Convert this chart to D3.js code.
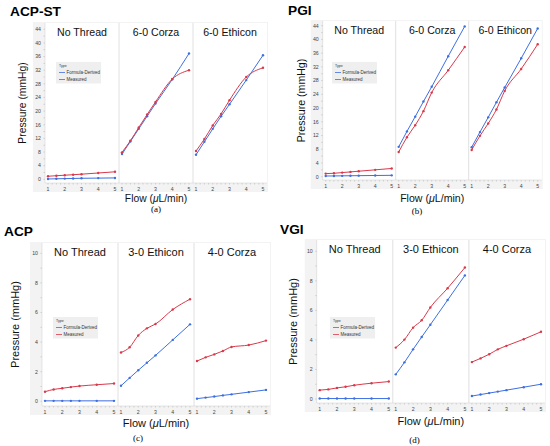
<!DOCTYPE html>
<html>
<head>
<meta charset="utf-8">
<script src="https://cdn.jsdelivr.net/npm/d3@7"></script>
<style>
  body { margin: 0; background: #fff; }
  svg { font-family: "Liberation Sans", Arial, Helvetica, sans-serif; }
</style>
</head>
<body>
<svg id="chart" width="550" height="446"></svg>
<script>
// Data
const flows = [1, 1.5, 2, 2.5, 3, 4, 5];
const xTicks = [1, 2, 3, 4, 5];
const yTicksHigh = [0, 4, 8, 12, 16, 20, 24, 28, 32, 36, 40, 44];
const yTicksLow = [0, 2, 4, 6, 8, 10];
const seriesNames = ["Formula-Derived", "Measured"];

// (a) ACP-ST
const acpstFacets = ["No Thread", "6-0 Corza", "6-0 Ethicon"];
const acpstNoThreadFormula = [0.1, 0.15, 0.2, 0.25, 0.3, 0.35, 0.4];
const acpstNoThreadMeasured = [0.9, 1.05, 1.2, 1.35, 1.5, 1.85, 2.2];
const acpstCorzaFormula = [7.4, 11.1, 14.8, 18.5, 22.2, 29.3, 36.9];
const acpstCorzaMeasured = [7.9, 11.3, 15.2, 19.0, 22.7, 29.4, 32.0];
const acpstEthiconFormula = [7.2, 11.0, 14.8, 18.5, 22.0, 29.1, 36.4];
const acpstEthiconMeasured = [8.3, 11.8, 15.8, 19.2, 23.2, 30.0, 32.7];

// (b) PGI
const pgiFacets = ["No Thread", "6-0 Corza", "6-0 Ethicon"];
const pgiNoThreadFormula = [0.2, 0.22, 0.25, 0.28, 0.3, 0.35, 0.4];
const pgiNoThreadMeasured = [0.9, 1.0, 1.2, 1.4, 1.6, 2.0, 2.4];
const pgiCorzaFormula = [8.7, 13.2, 17.5, 21.9, 26.2, 35.1, 43.8];
const pgiCorzaMeasured = [7.2, 11.5, 15.0, 19.1, 24.5, 31.0, 37.8];
const pgiEthiconFormula = [8.6, 13.0, 17.3, 21.7, 26.0, 34.5, 43.2];
const pgiEthiconMeasured = [7.8, 11.9, 15.5, 19.6, 25.0, 31.4, 38.6];

// (c) ACP
const acpFacets = ["No Thread", "3-0 Ethicon", "4-0 Corza"];
const acpNoThreadFormula = [0.03, 0.03, 0.03, 0.03, 0.03, 0.03, 0.03];
const acpNoThreadMeasured = [0.65, 0.8, 0.88, 0.96, 1.03, 1.12, 1.2];
const acpEthiconFormula = [1.05, 1.58, 2.1, 2.6, 3.1, 4.15, 5.2];
const acpEthiconMeasured = [3.3, 3.65, 4.45, 4.93, 5.22, 6.2, 6.9];
const acpCorzaFormula = [0.18, 0.25, 0.32, 0.4, 0.47, 0.62, 0.77];
const acpCorzaMeasured = [2.72, 2.97, 3.17, 3.4, 3.67, 3.8, 4.1];

// (d) VGI
const vgiFacets = ["No Thread", "3-0 Ethicon", "4-0 Corza"];
const vgiNoThreadFormula = [0.03, 0.03, 0.03, 0.03, 0.03, 0.03, 0.03];
const vgiNoThreadMeasured = [0.6, 0.65, 0.75, 0.83, 0.93, 1.07, 1.18];
const vgiEthiconFormula = [1.67, 2.48, 3.36, 4.2, 5.03, 6.7, 8.37];
const vgiEthiconMeasured = [3.48, 4.02, 4.83, 5.33, 6.2, 7.5, 8.9];
const vgiCorzaFormula = [0.2, 0.3, 0.4, 0.5, 0.6, 0.8, 1.0];
const vgiCorzaMeasured = [2.5, 2.75, 3.03, 3.36, 3.6, 4.05, 4.55];

const colors = { "Formula-Derived": "#3d6fe3", "Measured": "#d9394a" };

// Panel layout
const panels = [
  {
    title: "ACP-ST", sub: "(a)", facets: acpstFacets, yTicks: yTicksHigh, yMax: 44,
    series: [
      [acpstNoThreadFormula, acpstNoThreadMeasured],
      [acpstCorzaFormula, acpstCorzaMeasured],
      [acpstEthiconFormula, acpstEthiconMeasured],
    ],
    L: 45, R: 267, T: 23, B: 183, y0: 179.3, yTop: 29.3,
    titleX: 10, titleY: 16, yLabX: 22, xLabY: 202, subX: 156, subY: 212, labSize: 10.3, facetSize: 10.6,
    legX: 56, legY: 62,
  },
  {
    title: "PGI", sub: "(b)", facets: pgiFacets, yTicks: yTicksHigh, yMax: 44,
    series: [
      [pgiNoThreadFormula, pgiNoThreadMeasured],
      [pgiCorzaFormula, pgiCorzaMeasured],
      [pgiEthiconFormula, pgiEthiconMeasured],
    ],
    L: 322.7, R: 541.7, T: 21, B: 180, y0: 176.7, yTop: 25.7,
    titleX: 288, titleY: 15, yLabX: 301.5, xLabY: 201.5, subX: 417, subY: 213.5, labSize: 10.6, facetSize: 10.6,
    legX: 332, legY: 62,
  },
  {
    title: "ACP", sub: "(c)", facets: acpFacets, yTicks: yTicksLow, yMax: 10,
    series: [
      [acpNoThreadFormula, acpNoThreadMeasured],
      [acpEthiconFormula, acpEthiconMeasured],
      [acpCorzaFormula, acpCorzaMeasured],
    ],
    L: 42, R: 270, T: 243, B: 406, y0: 401.3, yTop: 253.3,
    titleX: 4, titleY: 236, yLabX: 15, xLabY: 427, subX: 138, subY: 441, labSize: 11, facetSize: 11,
    legX: 53, legY: 317,
  },
  {
    title: "VGI", sub: "(d)", facets: vgiFacets, yTicks: yTicksLow, yMax: 10,
    series: [
      [vgiNoThreadFormula, vgiNoThreadMeasured],
      [vgiEthiconFormula, vgiEthiconMeasured],
      [vgiCorzaFormula, vgiCorzaMeasured],
    ],
    L: 316.7, R: 545, T: 240, B: 403, y0: 399, yTop: 251.3,
    titleX: 280, titleY: 234, yLabX: 293, xLabY: 425, subX: 414.5, subY: 442.5, labSize: 11, facetSize: 11,
    legX: 330, legY: 317,
  },
];

const svg = d3.select("#chart");

panels.forEach((p) => {
  const g = svg.append("g");
  const yScale = d3.scaleLinear().domain([0, p.yMax]).range([p.y0, p.yTop]);
  const facetW = (p.R - p.L) / 3;

  // axis frame background
  g.append("rect")
    .attr("x", p.L - 12).attr("y", p.T - 1)
    .attr("width", p.R - p.L + 13).attr("height", p.B - p.T + 10)
    .attr("fill", "#f3f3f3");
  g.append("rect")
    .attr("x", p.L).attr("y", p.T)
    .attr("width", p.R - p.L).attr("height", p.B - p.T)
    .attr("fill", "#fff");

  // y axis
  const yMinor = d3.range(0, p.yMax + 0.001, p.yTicks[1] / 2);
  g.selectAll(".ymin").data(yMinor).enter().append("line")
    .attr("x1", p.L - 1.5).attr("x2", p.L)
    .attr("y1", (d) => yScale(d)).attr("y2", (d) => yScale(d))
    .attr("stroke", "#aaa").attr("stroke-width", 0.5);
  g.selectAll(".ytick").data(p.yTicks).enter().append("text")
    .attr("x", p.L - 4).attr("y", (d) => yScale(d) + 1.8)
    .attr("text-anchor", "end").attr("font-size", 5.2).attr("fill", "#444")
    .text((d) => d);
  g.append("line")
    .attr("x1", p.L).attr("x2", p.L).attr("y1", p.T).attr("y2", p.B)
    .attr("stroke", "#ccc").attr("stroke-width", 0.5);

  p.facets.forEach((name, i) => {
    const fl = p.L + i * facetW;
    const xScale = d3.scaleLinear().domain([1, 5]).range([fl + 3, fl + facetW - 4]);

    if (i > 0) {
      g.append("line")
        .attr("x1", fl).attr("x2", fl).attr("y1", p.T).attr("y2", p.B)
        .attr("stroke", "#d8d8d8").attr("stroke-width", 0.8);
    }

    // x axis ticks
    const xMinor = d3.range(1, 5.01, 0.25);
    g.selectAll(".xmin" + i).data(xMinor).enter().append("line")
      .attr("x1", (d) => xScale(d)).attr("x2", (d) => xScale(d))
      .attr("y1", p.B).attr("y2", p.B + 1.5)
      .attr("stroke", "#aaa").attr("stroke-width", 0.5);
    g.selectAll(".xtick" + i).data(xTicks).enter().append("text")
      .attr("x", (d) => xScale(d)).attr("y", p.B + 7.5)
      .attr("text-anchor", "middle").attr("font-size", 5.2).attr("fill", "#444")
      .text((d) => d);

    // facet title
    g.append("text")
      .attr("x", fl + facetW / 2).attr("y", p.T + 13)
      .attr("text-anchor", "middle").attr("font-size", p.facetSize).attr("fill", "#111")
      .text(name);

    // lines and markers
    p.series[i].forEach((vals, s) => {
      const pts = flows.map((f, k) => [f, vals[k]]);
      const color = colors[seriesNames[s]];
      g.append("path")
        .datum(pts)
        .attr("fill", "none").attr("stroke", color).attr("stroke-width", 1)
        .attr("d", d3.line().x((d) => xScale(d[0])).y((d) => yScale(d[1])).curve(d3.curveMonotoneX));
      g.selectAll(".pt" + i + s).data(pts).enter().append("circle")
        .attr("cx", (d) => xScale(d[0])).attr("cy", (d) => yScale(d[1]))
        .attr("r", 1.2).attr("fill", color);
    });
  });

  g.append("line")
    .attr("x1", p.L).attr("x2", p.R).attr("y1", p.B).attr("y2", p.B)
    .attr("stroke", "#ccc").attr("stroke-width", 0.5);

  // legend
  const leg = g.append("g").attr("transform", `translate(${p.legX},${p.legY})`);
  leg.append("rect").attr("width", 45).attr("height", 21.5).attr("fill", "#efefef");
  leg.append("text").attr("x", 3).attr("y", 5).attr("font-size", 3.6).attr("fill", "#333").text("Type");
  seriesNames.forEach((n, k) => {
    const ly = 10.5 + k * 7;
    leg.append("line").attr("x1", 3).attr("x2", 9).attr("y1", ly).attr("y2", ly)
      .attr("stroke", colors[n]).attr("stroke-width", 0.8);
    leg.append("text").attr("x", 10.5).attr("y", ly + 1.5).attr("font-size", 4.5).attr("fill", "#333").text(n);
  });

  // titles and labels
  g.append("text")
    .attr("x", p.titleX).attr("y", p.titleY)
    .attr("font-size", 13.7).attr("font-weight", "bold").attr("fill", "#000")
    .text(p.title);

  const midX = (p.L + p.R) / 2;
  const midY = (p.T + p.B) / 2;
  g.append("text")
    .attr("transform", `translate(${p.yLabX + p.labSize * 0.35},${midY}) rotate(-90)`)
    .attr("text-anchor", "middle").attr("font-size", p.labSize).attr("fill", "#111")
    .text("Pressure (mmHg)");

  const xl = g.append("text")
    .attr("x", midX).attr("y", p.xLabY)
    .attr("text-anchor", "middle").attr("font-size", p.labSize).attr("fill", "#111");
  xl.append("tspan").text("Flow (");
  xl.append("tspan").attr("font-style", "italic").text("μ");
  xl.append("tspan").text("L/min)");

  g.append("text")
    .attr("x", p.subX).attr("y", p.subY)
    .attr("text-anchor", "middle").attr("font-size", 9)
    .attr("font-family", "'Liberation Serif', 'Times New Roman', serif").attr("fill", "#000")
    .text(p.sub);
});
</script>
</body>
</html>
